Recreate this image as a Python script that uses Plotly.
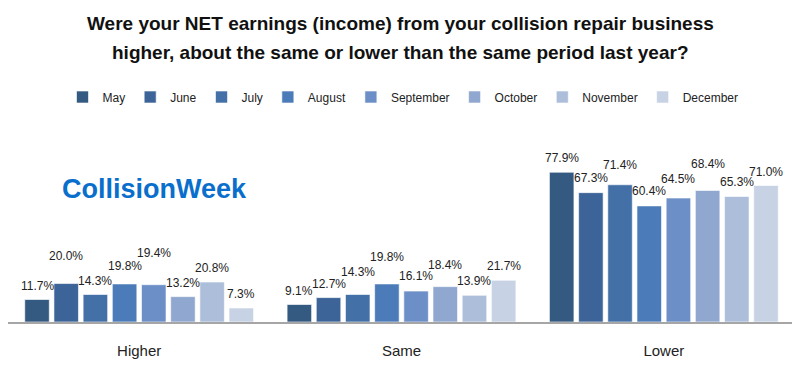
import plotly.graph_objects as go

categories = ["Higher", "Same", "Lower"]
months = ["May", "June", "July", "August", "September", "October", "November", "December"]
may = [11.7, 9.1, 77.9]
june = [20.0, 12.7, 67.3]
july = [14.3, 14.3, 71.4]
august = [19.8, 19.8, 60.4]
september = [19.4, 16.1, 64.5]
october = [13.2, 18.4, 68.4]
november = [20.8, 13.9, 65.3]
december = [7.3, 21.7, 71.0]
series = [may, june, july, august, september, october, november, december]

title_lines = [
    "Were your NET earnings (income) from your collision repair business",
    "higher, about the same or lower than the same period last year?",
]

colors = ["#355a82", "#3d6499", "#4470a8", "#4b7bb8", "#6b8fc6", "#90a7cf", "#adbedb", "#c7d2e5"]
# label lift above bar top (px), per month per category (staggered as in the original)
label_lift = [
    [14, 14, 14],
    [28, 14, 15],
    [14, 23, 20],
    [18, 27, 15],
    [32, 15, 19],
    [14, 22, 27],
    [14, 14, 14],
    [14, 14, 14],
]

FONT = "Liberation Sans Narrow, Arial Narrow, Liberation Sans, Arial, sans-serif"
OFF = 8  # page body margin
W, H = 800 - OFF, 366 - OFF
ML, MR, MT, MB = 0, 5, 141, 44
BARGAP = 0.11
PH = H - MT - MB
plot_w = W - ML - MR

def py(screen_y):
    return (H - MB - (screen_y - OFF)) / PH

def px(screen_x):
    return (screen_x - OFF - ML) / plot_w

fig = go.Figure()
for m, vals, c in zip(months, series, colors):
    fig.add_trace(go.Bar(
        name=m, x=categories, y=vals, hoverinfo="skip",
        marker=dict(color=c, line=dict(color="rgba(255,255,255,0.6)", width=1)),
    ))

slot = plot_w / len(categories) * (1 - BARGAP) / len(months)
for i, vals in enumerate(series):
    for j, v in enumerate(vals):
        fig.add_annotation(
            x=categories[j], y=v, xref="x", yref="y", text=f"{v:.1f}%", showarrow=False,
            xshift=(i - (len(months) - 1) / 2) * slot, yshift=label_lift[i][j],
            yanchor="middle", font=dict(family=FONT, size=12, color="#222222"),
        )

for line, sy in zip(title_lines, [23, 52]):
    fig.add_annotation(
        x=px(400), y=py(sy), xref="paper", yref="paper", yanchor="middle", xanchor="center",
        text=f"<b>{line}</b>", showarrow=False, font=dict(family=FONT, size=19, color="#111111"),
    )

fig.add_annotation(
    x=px(154), y=py(189), xref="paper", yref="paper", xanchor="center", yanchor="middle",
    text="<b>CollisionWeek</b>", showarrow=False,
    font=dict(family=FONT, size=27, color="#0a6fcc"),
)

fig.update_layout(
    template="none",
    width=W, height=H, margin=dict(l=ML, r=MR, t=MT, b=MB, autoexpand=False),
    paper_bgcolor="white", plot_bgcolor="white",
    barmode="group", bargap=BARGAP, bargroupgap=0.16,
    font=dict(family=FONT, color="#222222"),
    legend=dict(orientation="h", x=px(403), xanchor="center", y=py(97), yanchor="middle",
                font=dict(family=FONT, size=12, color="#222222"), itemwidth=30, tracegroupgap=0),
    xaxis=dict(showline=True, linecolor="#a6a6a6", linewidth=2, ticks="", automargin=False,
               tickfont=dict(family=FONT, size=15, color="#222222"),
               ticklabelstandoff=14, showgrid=False, zeroline=False),
    yaxis=dict(range=[0, 90], visible=False, showgrid=False, automargin=False, zeroline=False),
    showlegend=True,
)
fig.update_traces(cliponaxis=False)

fig.write_html("out.html")
